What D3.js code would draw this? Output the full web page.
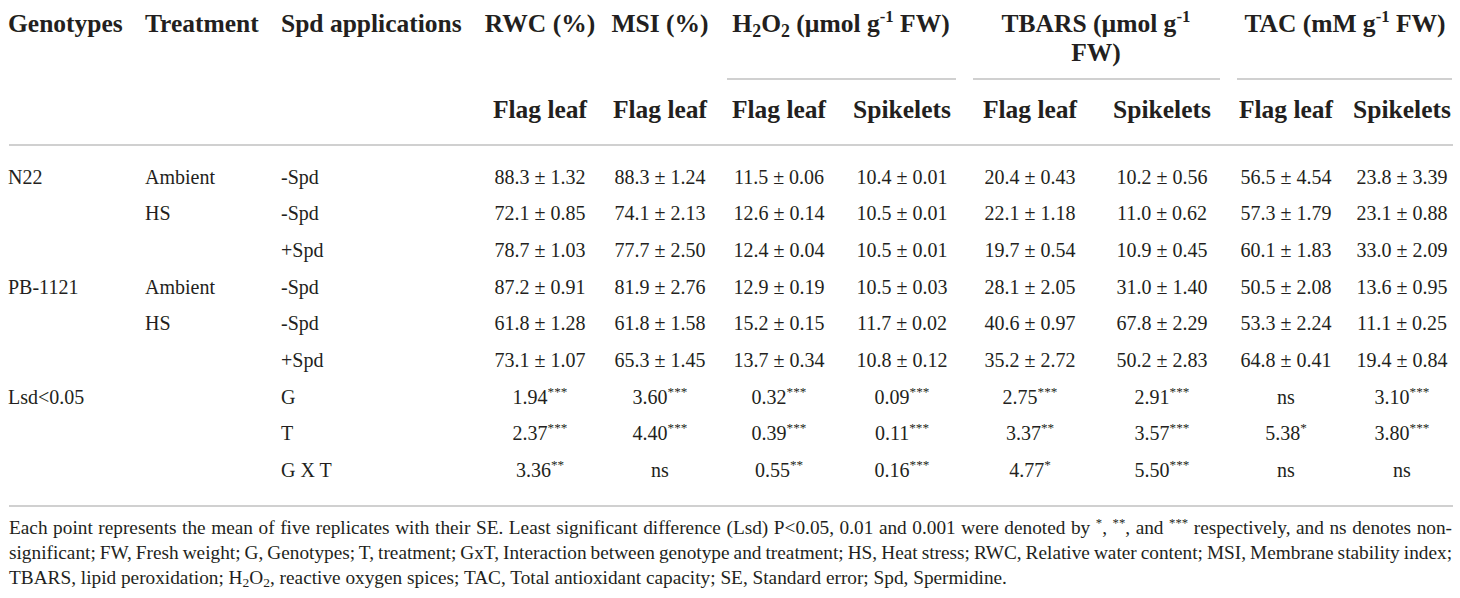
<!DOCTYPE html>
<html>
<head>
<meta charset="utf-8">
<script src="https://cdn.jsdelivr.net/npm/d3@7"></script>
<style>
  html, body { margin: 0; padding: 0; background: #fff; }
  svg { display: block; font-family: "Liberation Serif", "Times New Roman", serif; }
</style>
</head>
<body>
<svg id="chart" width="1460" height="598"></svg>
<script>
const rowGenotype  = ["N22", "N22", "N22", "PB-1121", "PB-1121", "PB-1121"];
const rowTreatment = ["Ambient", "HS", "HS", "Ambient", "HS", "HS"];
const rowSpd       = ["-Spd", "-Spd", "+Spd", "-Spd", "-Spd", "+Spd"];

const rwcMean   = [88.3, 72.1, 78.7, 87.2, 61.8, 73.1];
const rwcSE     = [1.32, 0.85, 1.03, 0.91, 1.28, 1.07];
const msiMean   = [88.3, 74.1, 77.7, 81.9, 61.8, 65.3];
const msiSE     = [1.24, 2.13, 2.50, 2.76, 1.58, 1.45];
const h2o2FlagMean  = [11.5, 12.6, 12.4, 12.9, 15.2, 13.7];
const h2o2FlagSE    = [0.06, 0.14, 0.04, 0.19, 0.15, 0.34];
const h2o2SpikeMean = [10.4, 10.5, 10.5, 10.5, 11.7, 10.8];
const h2o2SpikeSE   = [0.01, 0.01, 0.01, 0.03, 0.02, 0.12];
const tbarsFlagMean  = [20.4, 22.1, 19.7, 28.1, 40.6, 35.2];
const tbarsFlagSE    = [0.43, 1.18, 0.54, 2.05, 0.97, 2.72];
const tbarsSpikeMean = [10.2, 11.0, 10.9, 31.0, 67.8, 50.2];
const tbarsSpikeSE   = [0.56, 0.62, 0.45, 1.40, 2.29, 2.83];
const tacFlagMean  = [56.5, 57.3, 60.1, 50.5, 53.3, 64.8];
const tacFlagSE    = [4.54, 1.79, 1.83, 2.08, 2.24, 0.41];
const tacSpikeMean = [23.8, 23.1, 33.0, 13.6, 11.1, 19.4];
const tacSpikeSE   = [3.39, 0.88, 2.09, 0.95, 0.25, 0.84];

const lsdTerms = ["G", "T", "G X T"];
const lsdRwc        = ["1.94***", "2.37***", "3.36**"];
const lsdMsi        = ["3.60***", "4.40***", "ns"];
const lsdH2o2Flag   = ["0.32***", "0.39***", "0.55**"];
const lsdH2o2Spike  = ["0.09***", "0.11***", "0.16***"];
const lsdTbarsFlag  = ["2.75***", "3.37**", "4.77*"];
const lsdTbarsSpike = ["2.91***", "3.57***", "5.50***"];
const lsdTacFlag    = ["ns", "5.38*", "ns"];
const lsdTacSpike   = ["3.10***", "3.80***", "ns"];

// header texts ([text, "sub"|"sup"] pieces)
const leftHeads = ["Genotypes", "Treatment", "Spd applications"];
const rwcTitle   = [["RWC (%)"]];
const msiTitle   = [["MSI (%)"]];
const h2o2Title  = [["H"], ["2", "sub"], ["O"], ["2", "sub"], [" (µmol g"], ["-1", "sup"], [" FW)"]];
const tbarsTitle1 = [["TBARS (µmol g"], ["-1", "sup"]];
const tbarsTitle2 = [["FW)"]];
const tacTitle   = [["TAC (mM g"], ["-1", "sup"], [" FW)"]];
const tissueLabels = ["Flag leaf", "Flag leaf", "Flag leaf", "Spikelets", "Flag leaf", "Spikelets", "Flag leaf", "Spikelets"];

const footLines = [
  [["Each point represents the mean of five replicates with their SE. Least significant difference (Lsd) P<0.05, 0.01 and 0.001 were denoted by "], ["*", "sup"], [", "], ["**", "sup"], [", and "], ["***", "sup"], [" respectively, and ns denotes non-"]],
  [["significant; FW, Fresh weight; G, Genotypes; T, treatment; GxT, Interaction between genotype and treatment; HS, Heat stress; RWC, Relative water content; MSI, Membrane stability index;"]],
  [["TBARS, lipid peroxidation; H"], ["2", "sub"], ["O"], ["2", "sub"], [", reactive oxygen spices; TAC, Total antioxidant capacity; SE, Standard error; Spd, Spermidine."]]
];

// ---- table columns ----
const columns = [
  {key: "rwc",        mean: rwcMean,        se: rwcSE,        lsd: lsdRwc},
  {key: "msi",        mean: msiMean,        se: msiSE,        lsd: lsdMsi},
  {key: "h2o2Flag",   mean: h2o2FlagMean,   se: h2o2FlagSE,   lsd: lsdH2o2Flag},
  {key: "h2o2Spike",  mean: h2o2SpikeMean,  se: h2o2SpikeSE,  lsd: lsdH2o2Spike},
  {key: "tbarsFlag",  mean: tbarsFlagMean,  se: tbarsFlagSE,  lsd: lsdTbarsFlag},
  {key: "tbarsSpike", mean: tbarsSpikeMean, se: tbarsSpikeSE, lsd: lsdTbarsSpike},
  {key: "tacFlag",    mean: tacFlagMean,    se: tacFlagSE,    lsd: lsdTacFlag},
  {key: "tacSpike",   mean: tacSpikeMean,   se: tacSpikeSE,   lsd: lsdTacSpike}
];

// ---- layout ----
const ink = "#231f20", rule = "#d0d0d0";
const headSize = 25.5, bodySize = 20, footSize = 19.3;
const leftX = [8, 145, 281];
const colX = d3.scaleOrdinal()
  .domain(columns.map(c => c.key))
  .range([540, 660, 779, 902, 1030, 1162, 1286, 1402]);
const rowY = d3.scaleLinear().domain([0, 8]).range([177, 470.5]);
const fmtMean = d3.format(".1f"), fmtSE = d3.format(".2f");

const svg = d3.select("#chart");

function rich(sel, parts, size) {
  parts.forEach(p => {
    const t = sel.append("tspan").text(p[0]);
    if (p[1] === "sub") t.attr("font-size", size * 0.7).attr("baseline-shift", -size * 0.18);
    if (p[1] === "sup") t.attr("font-size", size * 0.66).attr("baseline-shift", size * 0.38);
  });
  return sel;
}

function headText(x, y, parts, anchor) {
  const t = svg.append("text")
    .attr("x", x).attr("y", y)
    .attr("text-anchor", anchor || "middle")
    .attr("font-size", headSize).attr("font-weight", "bold")
    .attr("fill", ink);
  return rich(t, parts, headSize);
}

// header row 1
leftHeads.forEach((h, i) => headText(leftX[i], 32, [[h]], "start"));
headText(colX("rwc"), 32, rwcTitle);
headText(colX("msi"), 32, msiTitle);
headText(841, 32, h2o2Title);
headText(1096, 32, tbarsTitle1);
headText(1096, 61, tbarsTitle2);
headText(1345, 32, tacTitle);

// group underlines
const groupSpans = [[727, 956], [973, 1220], [1237, 1452]];
svg.selectAll("line.group")
  .data(groupSpans)
  .join("line")
  .attr("class", "group")
  .attr("x1", d => d[0]).attr("x2", d => d[1])
  .attr("y1", 79).attr("y2", 79)
  .attr("stroke", rule).attr("stroke-width", 2);

// header row 2
svg.selectAll("text.tissue")
  .data(columns)
  .join("text")
  .attr("class", "tissue")
  .attr("x", d => colX(d.key)).attr("y", 118)
  .attr("text-anchor", "middle")
  .attr("font-size", headSize).attr("font-weight", "bold")
  .attr("fill", ink)
  .text((d, i) => tissueLabels[i]);

// full rules
svg.selectAll("line.full")
  .data([145, 506])
  .join("line")
  .attr("class", "full")
  .attr("x1", 9).attr("x2", 1453)
  .attr("y1", d => d).attr("y2", d => d)
  .attr("stroke", rule).attr("stroke-width", 2);

function bodyText(x, y, str, anchor) {
  return svg.append("text")
    .attr("x", x).attr("y", y)
    .attr("text-anchor", anchor || "start")
    .attr("font-size", bodySize)
    .attr("fill", ink)
    .text(str);
}

// left label columns, shown only where they change
rowGenotype.forEach((g, i) => {
  const base = rowY(i) + 6.5;
  if (i === 0 || g !== rowGenotype[i - 1]) bodyText(leftX[0], base, g);
  if (i === 0 || g !== rowGenotype[i - 1] || rowTreatment[i] !== rowTreatment[i - 1])
    bodyText(leftX[1], base, rowTreatment[i]);
  bodyText(leftX[2], base, rowSpd[i]);
});

// mean ± SE cells
columns.forEach(c => {
  svg.selectAll("text.cell-" + c.key)
    .data(c.mean)
    .join("text")
    .attr("class", "cell-" + c.key)
    .attr("x", colX(c.key))
    .attr("y", (d, i) => rowY(i) + 6.5)
    .attr("text-anchor", "middle")
    .attr("font-size", bodySize)
    .attr("fill", ink)
    .text((d, i) => fmtMean(d) + " ± " + fmtSE(c.se[i]));
});

// Lsd rows
bodyText(leftX[0], rowY(6) + 6.5, "Lsd<0.05");
lsdTerms.forEach((t, j) => bodyText(leftX[2], rowY(6 + j) + 6.5, t));
columns.forEach(c => {
  c.lsd.forEach((v, j) => {
    const m = v.match(/^([^*]+)(\**)$/);
    const t = svg.append("text")
      .attr("x", colX(c.key))
      .attr("y", rowY(6 + j) + 6.5)
      .attr("text-anchor", "middle")
      .attr("font-size", bodySize)
      .attr("fill", ink);
    const parts = [[m[1]]];
    if (m[2]) parts.push([m[2], "sup"]);
    rich(t, parts, bodySize);
  });
});

// footnote, first two lines justified
const footBase = [534, 559, 584];
footLines.forEach((parts, i) => {
  const t = svg.append("text")
    .attr("x", 9).attr("y", footBase[i])
    .attr("font-size", footSize)
    .attr("fill", ink);
  rich(t, parts, footSize);
  if (i < 2) {
    const full = parts.map(p => p[0]).join("");
    const spaces = (full.match(/ /g) || []).length;
    const w = t.node().getComputedTextLength();
    t.attr("word-spacing", (1452 - 9 - w) / spaces);
  }
});
</script>
</body>
</html>
